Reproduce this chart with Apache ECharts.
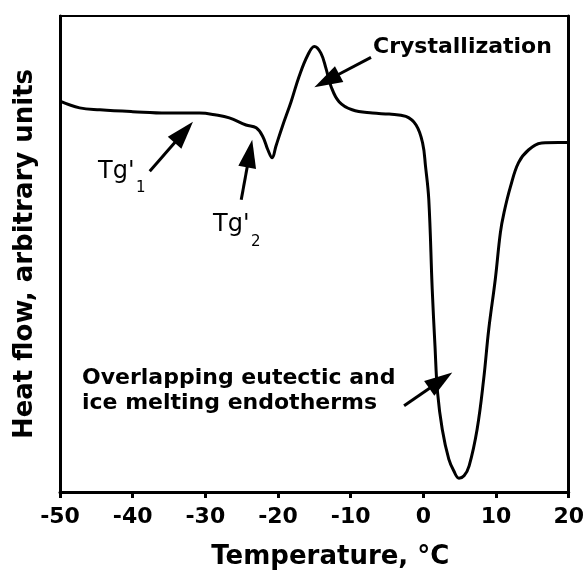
<!DOCTYPE html>
<html>
<head>
<meta charset="utf-8">
<script src="https://cdn.jsdelivr.net/npm/echarts@6/dist/echarts.min.js"></script>
<style>
  html, body { margin: 0; padding: 0; background: #fff; }
  #chart { width: 587px; height: 575px; }
</style>
</head>
<body>
<div id="chart"></div>
<script>
// DSC thermogram: heat flow (arbitrary units) versus temperature
const temperature = [-50, -47.3, -44.5, -40.0, -35.3, -30.8, -28.5, -26.7, -24.4, -23.0,
  -22.1, -21.4, -20.8, -20.3, -19.4, -18.2, -17.1, -15.9, -15.0, -14.1,
  -13.4, -12.7, -11.6, -9.8, -7.0, -4.7, -2.4, -1.0, -0.1, 0.3,
  0.75, 1.22, 1.6, 1.95, 2.6, 3.5, 4.2, 4.9, 5.6,
  6.3, 7.4, 8.3, 9.0, 9.9, 10.6, 11.1, 12.0, 13.1, 14.5,
  16.3, 18.6, 20.0];
const heatFlow = [82.1, 80.7, 80.3, 79.9, 79.6, 79.6, 79.2, 78.6, 77.1, 76.5,
  74.7, 71.9, 70.2, 72.6, 76.8, 82.0, 87.3, 91.8, 93.6, 92.2,
  89.0, 85.2, 82.0, 80.3, 79.6, 79.4, 78.9, 77.1, 73.3, 68.4,
  61.4, 42.6, 30.7, 21.0, 13.2, 6.9, 4.4, 2.9, 3.4,
  5.5, 13.2, 23.7, 34.2, 44.7, 54.5, 58.7, 64.2, 69.2, 71.9,
  73.3, 73.4, 73.4];

// x-axis tick values
const xTicks = [-50, -40, -30, -20, -10, 0, 10, 20];

// annotation arrows: [tailTemp, tailHeat, tipTemp, tipHeat]
const arrowTg1 = [-37.65, 67.4, -31.7, 77.8];
const arrowTg2 = [-25.06, 61.4, -23.55, 74.0];
const arrowCryst = [-7.2, 91.3, -15.0, 85.05];
const arrowMelt = [-2.65, 18.1, 3.98, 25.1];

const curve = temperature.map((t, i) => [t, heatFlow[i]]);
const arrows = [arrowTg1, arrowTg2, arrowCryst, arrowMelt];

const FONT = '"DejaVu Sans", sans-serif';
const HEAD_LEN = 28;
const HEAD_HALF = 9;

function renderArrow(params, api) {
  const a = api.coord([api.value(0), api.value(1)]);
  const b = api.coord([api.value(2), api.value(3)]);
  const dx = b[0] - a[0], dy = b[1] - a[1];
  const len = Math.hypot(dx, dy);
  const ux = dx / len, uy = dy / len;
  const base = [b[0] - ux * HEAD_LEN, b[1] - uy * HEAD_LEN];
  const nx = -uy, ny = ux;
  return {
    type: 'group',
    children: [
      { type: 'line', shape: { x1: a[0], y1: a[1], x2: base[0] + ux * 3, y2: base[1] + uy * 3 },
        style: { stroke: '#000', lineWidth: 3 } },
      { type: 'polygon',
        shape: { points: [b, [base[0] + nx * HEAD_HALF, base[1] + ny * HEAD_HALF], [base[0] - nx * HEAD_HALF, base[1] - ny * HEAD_HALF]] },
        style: { fill: '#000' } }
    ]
  };
}

const boldText = (text, x, y, size) => ({
  type: 'text', x: x, y: y, silent: true,
  style: { text: text, fill: '#000', font: 'bold ' + size + 'px ' + FONT, textAlign: 'left', textVerticalAlign: 'middle' }
});
const plainText = (text, x, y, size) => ({
  type: 'text', x: x, y: y, silent: true,
  style: { text: text, fill: '#000', font: size + 'px ' + FONT, textAlign: 'left', textVerticalAlign: 'middle' }
});

const chart = echarts.init(document.getElementById('chart'), null, { renderer: 'canvas' });
chart.setOption({
  animation: false,
  backgroundColor: '#fff',
  grid: { left: 60, right: 17, top: 16, bottom: 82, show: true, borderColor: '#000', borderWidth: 2 },
  xAxis: {
    type: 'value', min: -50, max: 20, interval: 10,
    axisLine: { onZero: false, lineStyle: { color: '#000', width: 3 } },
    axisTick: { show: true, inside: false, length: 6, lineStyle: { color: '#000', width: 3 } },
    axisLabel: { color: '#000', fontFamily: FONT, fontWeight: 'bold', fontSize: 22, margin: 14,
      formatter: v => (xTicks.indexOf(v) >= 0 ? String(v) : '') },
    splitLine: { show: false },
    name: 'Temperature, °C', nameLocation: 'middle', nameGap: 52,
    nameTextStyle: { color: '#000', fontFamily: FONT, fontWeight: 'bold', fontSize: 26, padding: [0, 0, 0, 32] }
  },
  yAxis: [{
    type: 'value', min: 0, max: 100, position: 'left',
    axisLine: { show: true, onZero: false, lineStyle: { color: '#000', width: 3 } },
    axisTick: { show: false }, axisLabel: { show: false }, splitLine: { show: false },
    name: 'Heat flow, arbitrary units', nameLocation: 'middle', nameGap: 22,
    nameTextStyle: { color: '#000', fontFamily: FONT, fontWeight: 'bold', fontSize: 26 }
  }, {
    type: 'value', min: 0, max: 100, position: 'right',
    axisLine: { show: true, onZero: false, lineStyle: { color: '#000', width: 3 } },
    axisTick: { show: false }, axisLabel: { show: false }, splitLine: { show: false }
  }],
  series: [{
    type: 'line', data: curve, showSymbol: false, smooth: 0.4,
    lineStyle: { color: '#000', width: 3 }, silent: true
  }, {
    type: 'custom', data: arrows, renderItem: renderArrow, silent: true, clip: false,
    encode: { x: [0, 2], y: [1, 3] }
  }],
  graphic: [
    boldText('Crystallization', 373, 47, 22),
    boldText('Overlapping eutectic and', 82, 378, 22),
    boldText('ice melting endotherms', 82, 403, 22),
    plainText("Tg'", 98, 172, 24),
    plainText('1', 136, 188, 15),
    plainText("Tg'", 213, 225, 24),
    plainText('2', 251, 242, 15)
  ]
});
</script>
</body>
</html>
